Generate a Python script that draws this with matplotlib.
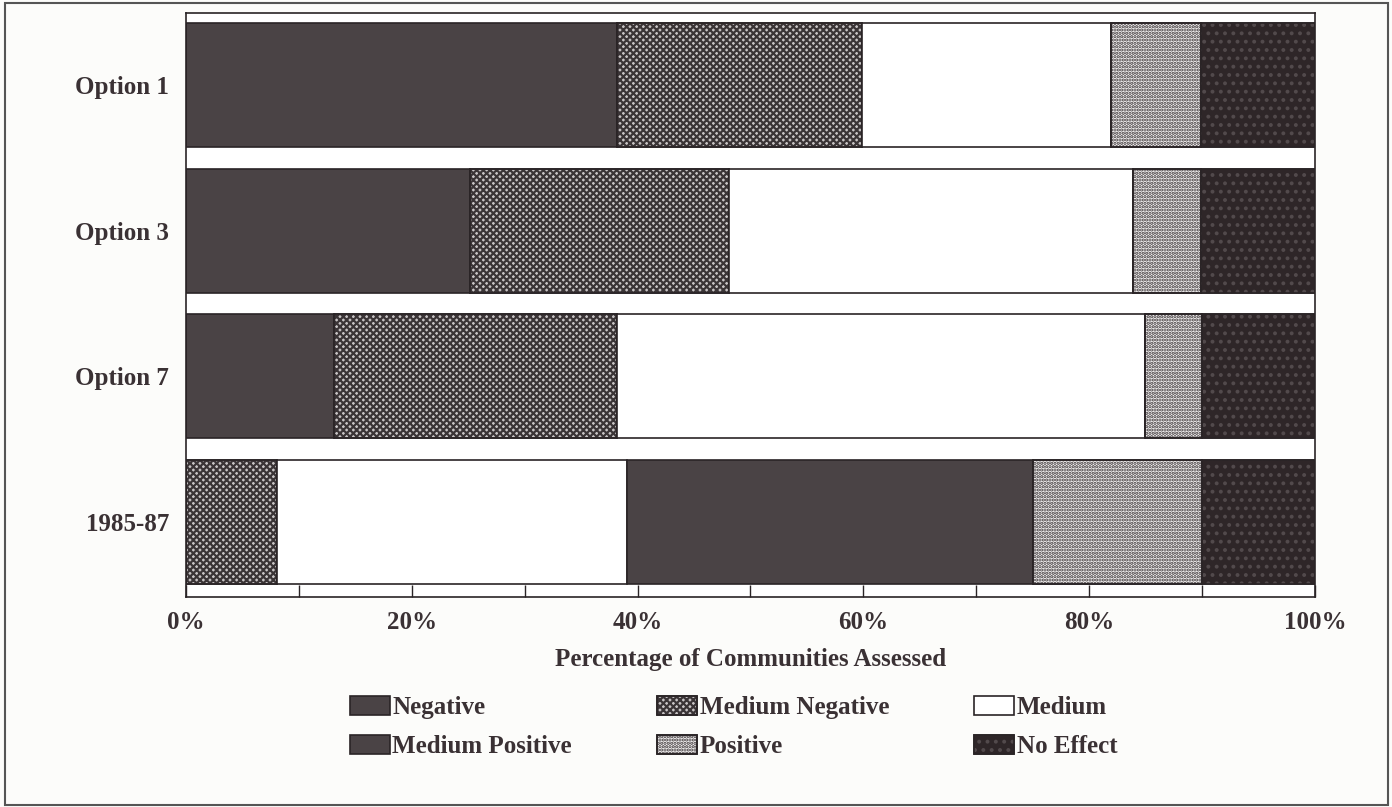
import numpy as np
import matplotlib
matplotlib.use('Agg')
import matplotlib.pyplot as plt
from matplotlib.patches import Rectangle, Patch
from matplotlib.ticker import MultipleLocator, FuncFormatter

# data (percent of communities)
options = ['Option 1', 'Option 3', 'Option 7', '1985-87']
categories = ['Negative', 'Medium Negative', 'Medium', 'Medium Positive', 'Positive', 'No Effect']
negative = [38.2, 25.2, 13.1, 0.0]
medium_negative = [21.7, 22.9, 25.1, 8.1]
medium = [22.0, 35.8, 46.7, 31.0]
medium_positive = [0.0, 0.0, 0.0, 35.9]
positive = [8.0, 6.0, 5.1, 15.0]
no_effect = [10.1, 10.1, 10.0, 10.0]

ink = '#3a3134'
plt.rcParams['font.family'] = ['Liberation Serif', 'DejaVu Serif']
plt.rcParams['font.weight'] = 'bold'
plt.rcParams['hatch.linewidth'] = 1.6

# fill, hatch, hatch colour per category
styles = {
    'Negative': ('#4a4345', None, None),
    'Medium Negative': ('#c8c4c5', 'xxxxx', '#3a3436'),
    'Medium': ('white', None, None),
    'Medium Positive': ('#4a4345', None, None),
    'Positive': ('#f8f6f6', '.....', '#3a3436'),
    'No Effect': ('#2e2628', '..', '#524a4c'),
}

fig = plt.figure(figsize=(13.92, 8.07), dpi=100)
fig.patch.set_facecolor('#fcfcfa')
ax = fig.add_axes([0.1336, 0.2602, 0.8111, 0.7237])

y = np.arange(len(options))[::-1]
series = [negative, medium_negative, medium, medium_positive, positive, no_effect]
left = np.zeros(len(options))
handles = {}
for name, vals in zip(categories, series):
    vals = np.array(vals)
    fc, hatch, hc = styles[name]
    ax.barh(y, vals, left=left, height=0.85, color=fc, edgecolor='#2a2426', linewidth=1.2)
    parts = [Patch(facecolor=fc, edgecolor='#2a2426', linewidth=1.2)]
    if hatch:
        ax.barh(y, vals, left=left, height=0.85, fill=False, edgecolor=hc, linewidth=0, hatch=hatch)
        parts.append(Patch(fill=False, edgecolor=hc, linewidth=0, hatch=hatch))
        ax.barh(y, vals, left=left, height=0.85, fill=False, edgecolor='#2a2426', linewidth=1.2)
        parts.append(Patch(fill=False, edgecolor='#2a2426', linewidth=1.2))
    handles[name] = tuple(parts)
    left += vals

ax.set_xlim(0, 100)
ax.set_ylim(-0.514, 3.493)
ax.set_yticks(y)
ax.set_yticklabels(options, fontsize=18, color=ink)
ax.tick_params(axis='y', length=0, pad=12)
ax.xaxis.set_major_locator(MultipleLocator(20))
ax.xaxis.set_minor_locator(MultipleLocator(10))
ax.xaxis.set_major_formatter(FuncFormatter(lambda v, p: f'{v:.0f}%'))
ax.tick_params(axis='x', which='both', direction='in', length=9, width=1, colors='#2a2426',
               labelcolor=ink, labelsize=18, pad=10)
for s in ax.spines.values():
    s.set_color('#2a2426')
    s.set_linewidth(1.2)
ax.set_xlabel('Percentage of Communities Assessed', fontsize=18, fontweight='bold',
              color=ink, labelpad=10)

order = ['Negative', 'Medium Positive', 'Medium Negative', 'Positive', 'Medium', 'No Effect']
leg = fig.legend([handles[k] for k in order], order, loc='center', bbox_to_anchor=(0.527, 0.099),
                 ncol=3, frameon=False, fontsize=18, handlelength=1.6, handleheight=0.8,
                 handletextpad=0.1, columnspacing=3.4, labelspacing=0.62)
for t in leg.get_texts():
    t.set_color(ink)

fig.patches.append(Rectangle((0.0036, 0.0025), 0.9935, 0.994, transform=fig.transFigure,
                             fill=False, edgecolor='#555', linewidth=1.5))

fig.savefig('out.png', dpi=100, facecolor=fig.get_facecolor())
